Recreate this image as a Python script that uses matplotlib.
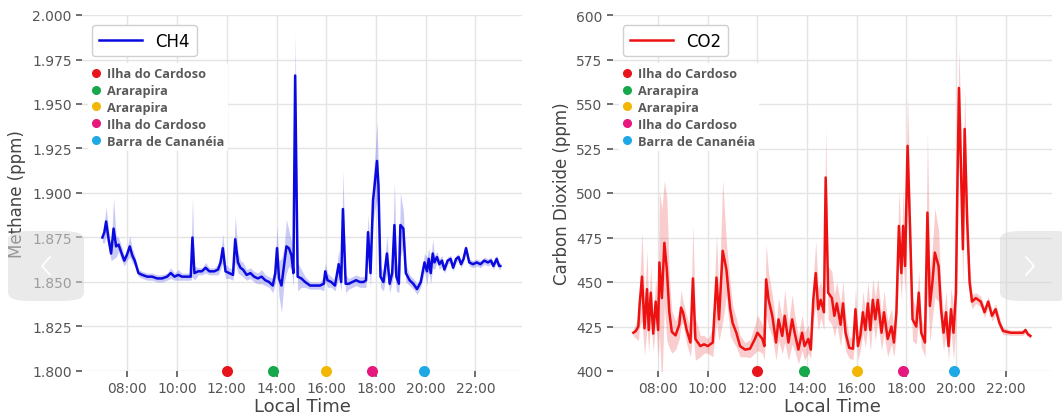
import numpy as np
import matplotlib
matplotlib.use("Agg")
import matplotlib.pyplot as plt
from matplotlib.lines import Line2D
from matplotlib.ticker import FuncFormatter, MultipleLocator, FixedLocator
from matplotlib.patches import FancyBboxPatch

# ---------------- data (hours of local time) ----------------
ch4_time = [7.00, 7.08, 7.15, 7.25, 7.35, 7.45, 7.55, 7.65, 7.75, 7.88, 7.98, 8.10, 8.20, 8.30, 8.45,
            8.60, 8.80, 9.00, 9.20, 9.40, 9.60, 9.75, 9.90, 10.05, 10.20, 10.40, 10.55, 10.62, 10.70,
            10.85, 11.00, 11.15, 11.30, 11.50, 11.65, 11.75, 11.84, 11.95, 12.10, 12.25, 12.34, 12.45,
            12.55, 12.65, 12.80, 12.95, 13.10, 13.25, 13.40, 13.55, 13.70, 13.85, 13.95, 14.02, 14.10,
            14.20, 14.30, 14.40, 14.50, 14.60, 14.68, 14.75, 14.85, 15.00, 15.15, 15.35, 15.55, 15.75,
            15.90, 15.96, 16.05, 16.20, 16.35, 16.50, 16.60, 16.67, 16.78, 16.90, 17.05, 17.20, 17.35,
            17.50, 17.60, 17.68, 17.78, 17.88, 17.95, 18.04, 18.10, 18.18, 18.30, 18.44, 18.55, 18.65,
            18.74, 18.82, 18.92, 18.98, 19.10, 19.20, 19.35, 19.50, 19.65, 19.80, 19.95, 20.05, 20.12,
            20.20, 20.28, 20.35, 20.45, 20.55, 20.65, 20.75, 20.88, 21.00, 21.10, 21.22, 21.32, 21.42,
            21.52, 21.62, 21.75, 21.90, 22.05, 22.20, 22.35, 22.50, 22.62, 22.72, 22.85, 22.95, 23.00]
ch4_value = [1.875, 1.878, 1.884, 1.874, 1.866, 1.880, 1.870, 1.871, 1.867, 1.862, 1.865, 1.870, 1.865,
             1.862, 1.855, 1.854, 1.853, 1.853, 1.852, 1.852, 1.853, 1.855, 1.853, 1.854, 1.853, 1.853,
             1.853, 1.875, 1.855, 1.856, 1.856, 1.858, 1.856, 1.856, 1.857, 1.861, 1.869, 1.856, 1.855,
             1.854, 1.874, 1.861, 1.858, 1.857, 1.854, 1.855, 1.853, 1.852, 1.853, 1.851, 1.850, 1.848,
             1.855, 1.869, 1.852, 1.848, 1.859, 1.870, 1.869, 1.865, 1.855, 1.966, 1.853, 1.852, 1.850,
             1.848, 1.848, 1.848, 1.849, 1.856, 1.851, 1.850, 1.848, 1.860, 1.850, 1.891, 1.849, 1.849,
             1.850, 1.851, 1.850, 1.850, 1.851, 1.878, 1.855, 1.896, 1.905, 1.918, 1.904, 1.853, 1.850,
             1.866, 1.849, 1.855, 1.882, 1.853, 1.849, 1.882, 1.880, 1.855, 1.851, 1.849, 1.846, 1.850,
             1.861, 1.856, 1.863, 1.855, 1.866, 1.861, 1.864, 1.860, 1.862, 1.857, 1.862, 1.863, 1.858,
             1.863, 1.864, 1.860, 1.863, 1.869, 1.861, 1.860, 1.861, 1.860, 1.862, 1.861, 1.862, 1.859,
             1.863, 1.859, 1.859]
ch4_spread = [.003, .006, .008, .005, .004, .017, .006, .004, .004, .003, .003, .006, .004, .003, .002,
              .002, .002, .002, .002, .002, .002, .003, .002, .003, .002, .002, .002, .022, .004, .002,
              .002, .003, .002, .002, .003, .004, .008, .004, .003, .003, .013, .006, .004, .004, .003,
              .003, .003, .003, .004, .003, .003, .004, .006, .012, .010, .015, .010, .015, .010, .008,
              .008, .024, .008, .005, .003, .002, .002, .002, .004, .005, .004, .003, .003, .008, .005,
              .022, .005, .003, .003, .003, .003, .003, .004, .010, .008, .012, .015, .022, .010, .006,
              .005, .010, .005, .005, .025, .008, .005, .018, .010, .005, .003, .003, .003, .003, .005,
              .008, .006, .006, .008, .004, .003, .003, .003, .002, .002, .002, .002, .002, .002, .002,
              .002, .002, .002, .002, .002, .002, .002, .002, .002, .002, .002, .002, .002]

co2_time = [7.00, 7.10, 7.20, 7.25, 7.35, 7.45, 7.55, 7.62, 7.70, 7.80, 7.90, 8.00, 8.05, 8.15, 8.25,
            8.35, 8.45, 8.55, 8.70, 8.85, 8.92, 9.00, 9.15, 9.30, 9.40, 9.50, 9.70, 9.85, 10.00, 10.20,
            10.35, 10.45, 10.60, 10.75, 10.90, 11.00, 11.15, 11.30, 11.50, 11.70, 11.90, 12.00, 12.20,
            12.28, 12.35, 12.45, 12.60, 12.75, 12.85, 13.00, 13.10, 13.25, 13.40, 13.50, 13.65, 13.80,
            13.90, 14.05, 14.15, 14.25, 14.35, 14.45, 14.55, 14.68, 14.75, 14.85, 15.00, 15.10, 15.20,
            15.35, 15.45, 15.55, 15.70, 15.85, 15.95, 16.05, 16.15, 16.25, 16.35, 16.45, 16.55, 16.65,
            16.75, 16.85, 17.00, 17.10, 17.25, 17.40, 17.50, 17.60, 17.70, 17.80, 17.87, 17.95, 18.05,
            18.15, 18.25, 18.40, 18.50, 18.60, 18.75, 18.85, 18.95, 19.05, 19.15, 19.30, 19.40, 19.50,
            19.60, 19.70, 19.80, 19.90, 20.00, 20.05, 20.12, 20.20, 20.28, 20.35, 20.45, 20.55, 20.65,
            20.80, 21.00, 21.15, 21.30, 21.45, 21.60, 21.75, 21.90, 22.20, 22.50, 22.70, 22.80, 22.90,
            23.00]
co2_value = [421.5, 422.5, 425, 437, 453, 424, 446, 423, 444, 421, 439, 423, 461, 441, 472,
             457, 433, 422, 420, 426, 435.6, 433, 423, 416, 452, 418, 414, 415, 414, 416,
             452.5, 429, 467.5, 457, 435, 427, 421.5, 414, 412, 412.5, 418, 421.5, 418,
             414, 451.5, 440, 431, 416, 429, 419.7, 431, 416, 429, 421.5, 412, 421.5,
             414, 418, 412, 440, 455, 434.7, 440, 433, 508.7, 444, 441, 431, 438,
             426, 438, 421.5, 413, 412.5, 434.7, 414, 420, 433, 423, 438, 423, 440,
             429, 440, 421.5, 433, 418, 425, 416, 433, 481.5, 455, 481.5, 459, 526.5,
             479.6, 429, 425, 444, 421.5, 416, 489, 436.5, 449.7, 466.5, 459, 434.7, 421.5,
             433, 414, 434.7, 421.5, 444, 496.5, 559, 515, 468.4, 536, 485, 449.7, 439,
             441, 439, 433, 439, 431, 434.7, 427, 422.5, 421.5, 421.5, 421.5, 423, 420.6,
             419.7]
co2_spread = [2, 4, 8, 12, 25, 15, 22, 12, 15, 10, 12, 15, 40, 50, 35,
              40, 20, 12, 8, 8, 10, 6, 8, 8, 30, 12, 6, 5, 4, 8,
              25, 12, 40, 15, 15, 10, 8, 6, 4, 5, 8, 10, 8,
              8, 20, 15, 12, 10, 12, 10, 15, 10, 14, 10, 8, 10,
              8, 8, 5, 12, 18, 12, 10, 10, 28, 15, 15, 12, 12,
              12, 12, 10, 6, 6, 12, 8, 8, 12, 10, 12, 12, 12,
              12, 12, 10, 12, 10, 10, 8, 12, 20, 15, 20, 15, 28,
              20, 12, 10, 12, 8, 8, 45, 20, 20, 25, 20, 12, 10,
              12, 8, 12, 15, 20, 30, 22, 25, 20, 22, 15, 10, 4,
              3, 3, 3, 3, 3, 3, 3, 2, 1.5, 1.5, 1.5, 1.5, 1.5,
              1.5]

site_names = ["Ilha do Cardoso", "Ararapira", "Ararapira", "Ilha do Cardoso", "Barra de Cananéia"]
site_times = [12.0, 13.87, 16.0, 17.85, 19.93]
site_colors = ["#e8141c", "#16a84a", "#f2b705", "#e6187d", "#1ea9e6"]

hour_ticks = [8, 10, 12, 14, 16, 18, 20, 22]

# ---------------- figure ----------------
W, H = 1062, 414
fig = plt.figure(figsize=(W / 100, H / 100), dpi=100)
ax1 = fig.add_axes([82 / W, 1 - 372 / H, 440 / W, 356 / H])
ax2 = fig.add_axes([613 / W, 1 - 372 / H, 439 / W, 356 / H])

grey = "#555555"


def style(ax, t, v, s, color, band, label, ylim, ystep, yfmt, ylabel):
    t = np.asarray(t); v = np.asarray(v); s = np.asarray(s)
    ax.fill_between(t, v - s, v + s, color=band, alpha=0.32, lw=0, zorder=2)
    line, = ax.plot(t, v, color=color, lw=1.8, label=label, zorder=3)
    ax.set_xlim(6.18, 23.87)
    ax.set_ylim(*ylim)
    ax.xaxis.set_major_locator(FixedLocator(hour_ticks))
    ax.xaxis.set_major_formatter(FuncFormatter(lambda x, p: "%02d:00" % int(round(x))))
    ax.yaxis.set_major_locator(MultipleLocator(ystep))
    ax.yaxis.set_major_formatter(FuncFormatter(lambda y, p: yfmt % y))
    ax.grid(True, color="#e4e4e4", lw=1.0, zorder=0)
    ax.set_axisbelow(True)
    for sp in ax.spines.values():
        sp.set_visible(False)
    ax.tick_params(axis="both", colors=grey, labelsize=10, length=4, width=1.2)
    ax.set_xlabel("Local Time", fontsize=13, color="#444444", labelpad=1)
    ax.set_ylabel(ylabel, fontsize=12, color="#444444")
    # site markers on the bottom axis
    handles = []
    for name, st, c in zip(site_names, site_times, site_colors):
        ax.scatter([st], [ylim[0]], s=48, color=c, clip_on=False, zorder=5)
        handles.append(Line2D([], [], marker="o", ls="", color=c, markersize=5.5, label=name))
    leg1 = ax.legend(handles=[line], loc="upper left", fontsize=12, frameon=True,
                     edgecolor="#d0d0d0", facecolor="white", framealpha=1,
                     borderaxespad=0.6, handlelength=2.6)
    leg1.get_frame().set_linewidth(1.0)
    ax.add_artist(leg1)
    leg2 = ax.legend(handles=handles, loc="upper left", bbox_to_anchor=(0.0, 0.882),
                     frameon=True, facecolor="white", edgecolor="none", framealpha=1,
                     handlelength=0.6, handletextpad=0.55, labelspacing=0.3,
                     borderpad=0.3, prop={"family": "Open Sans", "weight": "bold", "size": 9.2})
    for txt in leg2.get_texts():
        txt.set_color("#5a5a5a")
    return line


style(ax1, ch4_time, ch4_value, ch4_spread, "#0a0ae0", "#5c5ce8", "CH4",
      (1.800, 2.000), 0.025, "%.3f", "Methane (ppm)")
style(ax2, co2_time, co2_value, co2_spread, "#ee1111", "#ee6666", "CO2",
      (400, 600), 25, "%d", "Carbon Dioxide (ppm)")

# carousel overlay buttons present in the reference screenshot (drawn as shapes)
for (x0, x1, cx, d) in [(8, 84, 46, -1), (1000, 1075, 1030, 1)]:
    p = FancyBboxPatch((x0 / W, 1 - 302 / H), (x1 - x0) / W, 70 / H,
                       boxstyle="round,pad=0,rounding_size=0.02", transform=fig.transFigure,
                       facecolor="#d9d9d9", edgecolor="none", alpha=0.55, zorder=10)
    fig.patches.append(p)
    xs = [(cx - 4 * d) / W, (cx + 4 * d) / W, (cx - 4 * d) / W]
    ys = [1 - 258 / H, 1 - 267 / H, 1 - 276 / H]
    fig.lines.append(Line2D(xs, ys, transform=fig.transFigure, color="white", lw=1.3, zorder=11))

fig.savefig("out.png", dpi=100)
